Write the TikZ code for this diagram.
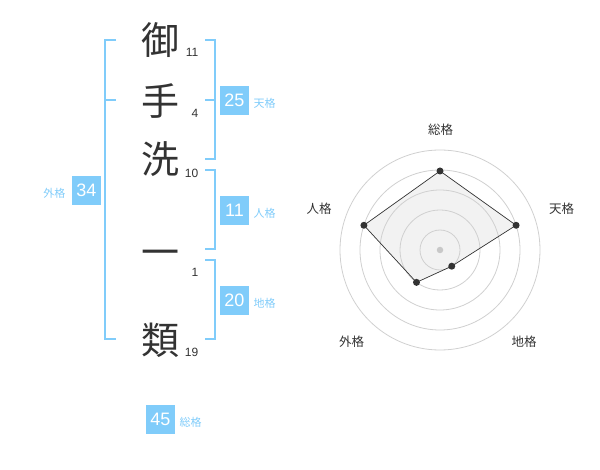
\documentclass[tikz,border=0pt]{standalone}
\usepackage{fontspec}
\setmainfont{Liberation Sans}
\newfontfamily\jpfont{Noto Sans CJK JP}
\definecolor{kakublue}{RGB}{128,204,250}
\definecolor{inkgray}{RGB}{51,51,51}
\definecolor{ringgray}{RGB}{208,208,208}
\definecolor{fillgray}{RGB}{242,242,242}
\definecolor{dotgray}{RGB}{200,200,200}

\begin{document}
\begin{tikzpicture}[x=1pt,y=-1pt,
	kanji/.style={font=\jpfont\fontsize{38}{38}\selectfont, text=inkgray, inner sep=0pt},
	strokes/.style={font=\fontsize{12}{12}\selectfont, text=inkgray, anchor=east, inner sep=0pt},
	score/.style={rectangle, fill=kakublue, minimum size=29pt, inner sep=0pt, text=white, font=\fontsize{18}{18}\selectfont},
	kaku/.style={font=\jpfont\fontsize{11}{11}\selectfont, text=kakublue, inner sep=0pt},
	axislabel/.style={font=\jpfont\fontsize{12.5}{12.5}\selectfont, text=inkgray, inner sep=0pt},
	bracket/.style={draw=kakublue, line width=2pt},
	ring/.style={draw=ringgray, line width=0.8pt},
	point/.style={circle, fill=inkgray, inner sep=0pt, minimum size=7pt}]

	\useasboundingbox (0,0) rectangle (600,470);

	%Name
	\node[kanji]	(c1)	at (160,40)	{御};
	\node[kanji]	(c2)	at (160,101)	{手};
	\node[kanji]	(c3)	at (160,159)	{洗};
	\node[kanji]	(c4)	at (160,258.3)	{一};
	\node[kanji]	(c5)	at (160,340)	{類};

	\node[strokes]	(s1)	at (198.5,52.7)	{11};
	\node[strokes]	(s2)	at (198.5,113)	{4};
	\node[strokes]	(s3)	at (198.5,173)	{10};
	\node[strokes]	(s4)	at (198.5,272.7)	{1};
	\node[strokes]	(s5)	at (198.5,352.7)	{19};

	%Brackets
	\draw[bracket] (116,40) -- (105,40) -- (105,339.3) -- (116,339.3);
	\draw[bracket] (105,100) -- (116,100);
	\draw[bracket] (205,40) -- (215,40) -- (215,159.3) -- (205,159.3);
	\draw[bracket] (205,100) -- (215,100);
	\draw[bracket] (205,170) -- (215,170) -- (215,249.3) -- (205,249.3);
	\draw[bracket] (205,260) -- (215,260) -- (215,339.3) -- (205,339.3);

	%Scores
	\node[score]	(ten)	at (234.5,100.5)	{25};
	\node[kaku, anchor=west]	(tenl)	at (253.3,103)	{天格};
	\node[score]	(jin)	at (234.5,210.5)	{11};
	\node[kaku, anchor=west]	(jinl)	at (253.3,213)	{人格};
	\node[score]	(chi)	at (234.5,300.5)	{20};
	\node[kaku, anchor=west]	(chil)	at (253.3,303)	{地格};
	\node[score]	(gai)	at (86.5,190.5)	{34};
	\node[kaku, anchor=east]	(gail)	at (65.5,193)	{外格};
	\node[score]	(so)	at (160.5,419.5)	{45};
	\node[kaku, anchor=west]	(sol)	at (179.3,422)	{総格};

	%Radar
	\coordinate (o) at (440,250);
	\coordinate (rso)	at ([shift={(-90:79)}]o);
	\coordinate (rten)	at ([shift={(-18:80)}]o);
	\coordinate (rchi)	at ([shift={(54:20)}]o);
	\coordinate (rgai)	at ([shift={(126:40)}]o);
	\coordinate (rjin)	at ([shift={(198:80)}]o);

	\fill[fillgray] (rso) -- (rten) -- (rchi) -- (rgai) -- (rjin) -- cycle;
	\foreach \r in {20,40,...,100}
		\draw[ring] (o) circle[radius=\r];
	\draw[inkgray, line width=0.7pt] (rso) -- (rten) -- (rchi) -- (rgai) -- (rjin) -- cycle;

	\node[circle, fill=dotgray, inner sep=0pt, minimum size=6.5pt] (mid) at (o) {};
	\node[point]	(pso)	at (rso)	{};
	\node[point]	(pten)	at (rten)	{};
	\node[point]	(pchi)	at (rchi)	{};
	\node[point]	(pgai)	at (rgai)	{};
	\node[point]	(pjin)	at (rjin)	{};

	\node[axislabel]	(aso)	at (440.7,130)	{総格};
	\node[axislabel]	(aten)	at (561.7,208.3)	{天格};
	\node[axislabel]	(achi)	at (524,342)	{地格};
	\node[axislabel]	(agai)	at (351.7,342)	{外格};
	\node[axislabel]	(ajin)	at (319,208.3)	{人格};
\end{tikzpicture}
\end{document}
